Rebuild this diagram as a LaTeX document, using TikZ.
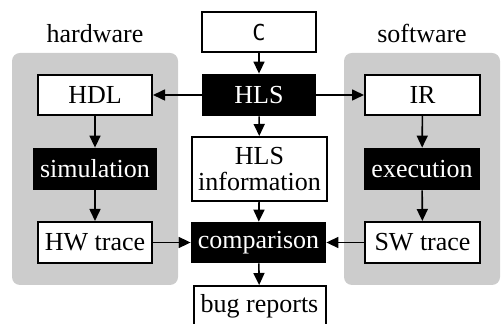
\documentclass[tikz,border=0pt]{standalone}
\usepackage{fontspec}
\setmainfont{Liberation Serif}
\setmonofont{DejaVu Sans Mono}
\usetikzlibrary{arrows.meta}
\begin{document}
\begin{tikzpicture}[x=0.5pt,y=-0.5pt,
  font=\fontsize{13}{15}\selectfont,
  group/.style={fill=black!20,draw=none,rounded corners=4pt},
  wbox/.style={draw=black,line width=1pt,fill=white,minimum height=20pt,inner sep=2pt},
  bbox/.style={fill=black,text=white,draw=none,minimum height=21pt,inner sep=2pt},
  conn/.style={line width=0.8pt,-{Triangle[length=6pt,width=5.5pt]}}]
\useasboundingbox (0,0) rectangle (501,324);
\fill[group] (12,53) rectangle (178,285);
\fill[group] (344,53) rectangle (500,285);
\node[anchor=base] (hwlab) at (95,43) {hardware};
\node[anchor=base] (swlab) at (422,43) {software};
\node[wbox,minimum width=57pt] (c) at (259,32) {\ttfamily\fontsize{11}{13}\selectfont C};
\node[bbox,minimum width=57pt] (hls) at (259,95) {HLS};
\node[wbox,minimum width=57pt] (hdl) at (95,95) {HDL};
\node[wbox,minimum width=57.5pt] (ir) at (422.5,95) {IR};
\node[bbox,minimum width=62pt] (sim) at (95,169) {simulation};
\node[bbox,minimum width=58pt] (exe) at (422,169) {execution};
\node[wbox,minimum width=57pt,minimum height=20.5pt] (hwt) at (95,242.5) {HW trace};
\node[wbox,minimum width=57.5pt,minimum height=20.5pt] (swt) at (422.5,242.5) {SW trace};
\node[wbox,minimum width=67.5pt,minimum height=32pt,align=center,inner sep=1pt] (info) at (259.5,169) {HLS\\[-2pt]information};
\node[bbox,minimum width=67.5pt,minimum height=20.5pt] (cmp) at (258.5,242.5) {comparison};
\node[wbox,minimum width=66pt] (bug) at (259.5,306) {bug reports};
\draw[conn] (c) -- (hls);
\draw[conn] (hls) -- (hdl);
\draw[conn] (hls) -- (ir);
\draw[conn] (hls) -- (info);
\draw[conn] (hdl) -- (sim);
\draw[conn] (sim) -- (hwt);
\draw[conn] (ir) -- (exe);
\draw[conn] (exe) -- (swt);
\draw[conn] (info) -- (cmp);
\draw[conn] (hwt) -- (cmp);
\draw[conn] (swt) -- (cmp);
\draw[conn] (cmp) -- (bug);
\end{tikzpicture}
\end{document}
